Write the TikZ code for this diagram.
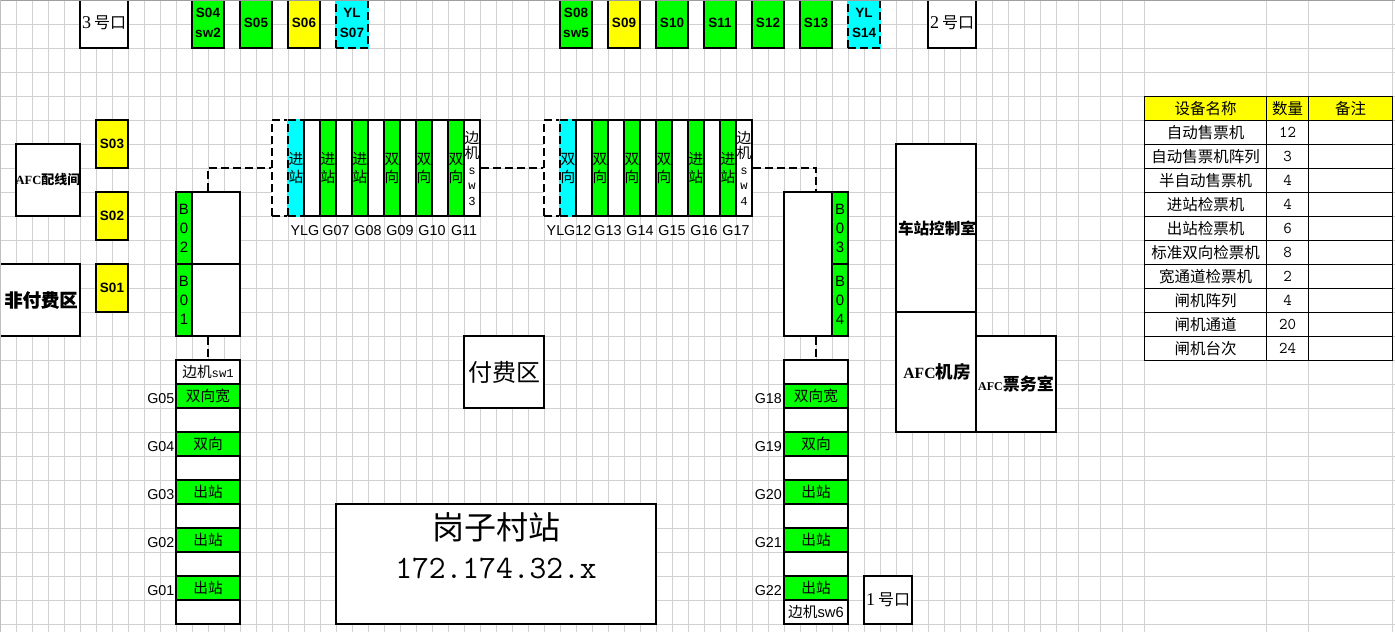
\documentclass[tikz,border=0pt]{standalone}
\usepackage{fontspec}
\setmainfont{Liberation Serif}
\setsansfont{Liberation Sans}
\newfontfamily\cjk{Noto Sans CJK SC}
\newfontfamily\cjkmid[FakeBold=0.5]{Noto Sans CJK SC}
\newfontfamily\half{Liberation Mono}
\usetikzlibrary{arrows.meta}
\definecolor{ylcyan}{RGB}{0,255,255}
\definecolor{ylyellow}{RGB}{255,255,0}

\tikzset{
    room/.style={draw,line width=2pt,fill=white,inner sep=0pt,align=center},
    spare/.style={dash pattern=on 8pt off 4pt,preaction={draw=ylcyan,solid}},
    link/.style={draw=black,line width=2pt,dash pattern=on 8pt off 4pt},
    cell/.style={draw,line width=1pt,inner sep=0pt,minimum height=24pt,font={\cjk\fontsize{15.5}{18}\selectfont}},
    cola/.style={cell,minimum width=122pt},
    colb/.style={cell,minimum width=42pt},
    colc/.style={cell,minimum width=84pt},
    num/.style={font={\ttfamily\fontsize{16.5}{18}\selectfont}}
}

\begin{document}
\begin{tikzpicture}[x=1pt,y=-1pt]
\useasboundingbox (0,0) rectangle (1395,632);
\fill[white] (0,0) rectangle (1395,632);

% sheet lines
\begin{scope}[line width=1pt,draw=black!18]
    \foreach \gx in {0,16,...,1056,1078,1100,1122,1144,1266,1308,1392}
        \draw (\gx+0.5,0) -- (\gx+0.5,632);
    \foreach \gy in {24,48,...,624}
        \draw (0,\gy+0.5) -- (1395,\gy+0.5);
\end{scope}

% doors and rooms
\begin{scope}[every node/.style={room,font={\bfseries\fontsize{16}{18}\selectfont}}]
    \node[minimum width=48pt,minimum height=50pt] (door3) at (104,23) {\mdseries\fontsize{18}{18}\selectfont 3\,\cjk\fontsize{16}{18}\selectfont 号口};
    \node[minimum width=48pt,minimum height=50pt] (door2) at (952,23) {\mdseries\fontsize{18}{18}\selectfont 2\,\cjk\fontsize{16}{18}\selectfont 号口};
    \node[minimum width=48pt,minimum height=48pt] (door1) at (888,600) {\mdseries\fontsize{18}{18}\selectfont 1\,\cjk\fontsize{16}{18}\selectfont 号口};
    \node[minimum width=64pt,minimum height=72pt] (wiring) at (48,180) {\fontsize{12.5}{14}\selectfont AFC\cjk\fontsize{13}{14}\selectfont 配线间};
    \node[minimum width=82pt,minimum height=72pt] (unpaid) at (39,300) {\hspace*{4pt}\cjkmid\fontsize{18.3}{20}\selectfont 非付费区};
    \node[minimum width=80pt,minimum height=72pt] (paid) at (504,372) {\mdseries\cjk\fontsize{24}{26}\selectfont 付费区};
    \node[minimum width=80pt,minimum height=168pt] (control) at (936,228) {\hspace*{2pt}\cjk\fontsize{15.6}{18}\selectfont 车站控制室};
    \node[minimum width=80pt,minimum height=120pt] (afcroom) at (936,372) {\hspace*{2pt}\fontsize{15.6}{18}\selectfont AFC\cjk\fontsize{17.5}{18}\selectfont 机房};
    \node[minimum width=80pt,minimum height=96pt] (ticket) at (1016,384) {\fontsize{12}{18}\selectfont AFC\cjk\fontsize{17}{18}\selectfont 票务室};
    \node[minimum width=320pt,minimum height=120pt] (station) at (496,564) {};
\end{scope}
\node[inner sep=0pt,font={\cjk\fontsize{32}{34}\selectfont}] (stname) at (496,527) {岗子村站};
\node[inner sep=0pt,font={\ttfamily\fontsize{32.6}{34}\selectfont}] (stip) at (496,568) {172.174.32.x};

% ticket machines
\begin{scope}[every node/.style={room,minimum width=32pt,minimum height=50pt,font={\sffamily\bfseries\fontsize{13.5}{19.5}\selectfont}}]
    \node[fill=green] (s04) at (208,23) {S04\\sw2};
    \node[fill=green] (s05) at (256,23) {S05};
    \node[fill=ylyellow] (s06) at (304,23) {S06};
    \node[fill=ylcyan,spare] (s07) at (352,23) {YL\\S07};
    \node[fill=green] (s08) at (576,23) {S08\\sw5};
    \node[fill=ylyellow] (s09) at (624,23) {S09};
    \node[fill=green] (s10) at (672,23) {S10};
    \node[fill=green] (s11) at (720,23) {S11};
    \node[fill=green] (s12) at (768,23) {S12};
    \node[fill=green] (s13) at (816,23) {S13};
    \node[fill=ylcyan,spare] (s14) at (864,23) {YL\\S14};
    \node[fill=ylyellow,minimum height=48pt] (s03) at (112,144) {S03};
    \node[fill=ylyellow,minimum height=48pt] (s02) at (112,216) {S02};
    \node[fill=ylyellow,minimum height=48pt] (s01) at (112,288) {S01};
\end{scope}

% ticket offices
\begin{scope}[every node/.style={room,font={\sffamily\fontsize{15}{19}\selectfont}}]
    \node[minimum width=64pt,minimum height=144pt] (office1) at (208,264) {};
    \node[minimum width=48pt,minimum height=72pt] (w02) at (216,228) {};
    \node[minimum width=48pt,minimum height=72pt] (w01) at (216,300) {};
    \node[fill=green,minimum width=16pt,minimum height=72pt] (b02) at (184,228) {B\\0\\2};
    \node[fill=green,minimum width=16pt,minimum height=72pt] (b01) at (184,300) {B\\0\\1};
    \node[minimum width=64pt,minimum height=144pt] (office2) at (816,264) {};
    \node[fill=green,minimum width=16pt,minimum height=72pt] (b03) at (840,228) {B\\0\\3};
    \node[fill=green,minimum width=16pt,minimum height=72pt] (b04) at (840,300) {B\\0\\4};
\end{scope}

% gate array one
\begin{scope}[every node/.style={room,minimum width=16pt,minimum height=96pt,font={\cjk\fontsize{14.7}{18}\selectfont}}]
    \node[dash pattern=on 8pt off 4pt] (ylbox1) at (280,168) {};
    \node[minimum width=192pt] (array1) at (384,168) {};
    \node[fill=ylcyan,spare] (ylg1) at (296,168) {进\\站};
    \node (gap1) at (312,168) {};
    \node[fill=green] (g07) at (328,168) {进\\站};
    \node[fill=green] (g08) at (360,168) {进\\站};
    \node[fill=green] (g09) at (392,168) {双\\向};
    \node[fill=green] (g10) at (424,168) {双\\向};
    \node[fill=green] (g11) at (456,168) {双\\向};
    \node[font={\cjk\fontsize{14.7}{15.5}\selectfont}] (sw3) at (472,168) {边\\机\\{\half\fontsize{12.2}{15.5}\selectfont s}\\{\half\fontsize{12.2}{15.5}\selectfont w}\\{\half\fontsize{12.2}{15.5}\selectfont 3}};
\end{scope}

% gate array two
\begin{scope}[every node/.style={room,minimum width=16pt,minimum height=96pt,font={\cjk\fontsize{14.7}{18}\selectfont}}]
    \node[dash pattern=on 8pt off 4pt] (ylbox2) at (552,168) {};
    \node[minimum width=192pt] (array2) at (656,168) {};
    \node[fill=ylcyan,spare] (ylg2) at (568,168) {双\\向};
    \node (gap2) at (584,168) {};
    \node[fill=green] (g13) at (600,168) {双\\向};
    \node[fill=green] (g14) at (632,168) {双\\向};
    \node[fill=green] (g15) at (664,168) {双\\向};
    \node[fill=green] (g16) at (696,168) {进\\站};
    \node[fill=green] (g17) at (728,168) {进\\站};
    \node[font={\cjk\fontsize{14.7}{15.5}\selectfont}] (sw4) at (744,168) {边\\机\\{\half\fontsize{12.2}{15.5}\selectfont s}\\{\half\fontsize{12.2}{15.5}\selectfont w}\\{\half\fontsize{12.2}{15.5}\selectfont 4}};
\end{scope}

% gate stacks
\begin{scope}[every node/.style={room,minimum width=64pt,minimum height=24pt,font={\cjk\fontsize{14.7}{18}\selectfont}}]
    \node[minimum height=264pt] (stack1) at (208,492) {};
    \node[draw=none,fill=none] (sw1) at (208,372) {边机{\half\fontsize{12.2}{18}\selectfont sw1}};
    \node[fill=green] (g05) at (208,396) {双向宽};
    \node[fill=green] (g04) at (208,444) {双向};
    \node[fill=green] (g03) at (208,492) {出站};
    \node[fill=green] (g02) at (208,540) {出站};
    \node[fill=green] (g01) at (208,588) {出站};
    \node[minimum height=264pt] (stack2) at (816,492) {};
    \node[fill=green] (g18) at (816,396) {双向宽};
    \node[fill=green] (g19) at (816,444) {双向};
    \node[fill=green] (g20) at (816,492) {出站};
    \node[fill=green] (g21) at (816,540) {出站};
    \node[fill=green] (g22) at (816,588) {出站};
    \node[draw=none,fill=none] (sw6) at (816,612) {边机{\sffamily sw6}};
\end{scope}

% gate numbers
\begin{scope}[every node/.style={inner sep=0pt,font={\sffamily\fontsize{14.3}{16}\selectfont}}]
    \node (lylg1) at (305,231) {YLG};
    \node (lg07) at (336,231) {G07};
    \node (lg08) at (368,231) {G08};
    \node (lg09) at (400,231) {G09};
    \node (lg10) at (432,231) {G10};
    \node (lg11) at (464,231) {G11};
    \node (lg12) at (569,231) {YLG12};
    \node (lg13) at (608,231) {G13};
    \node (lg14) at (640,231) {G14};
    \node (lg15) at (672,231) {G15};
    \node (lg16) at (704,231) {G16};
    \node (lg17) at (736,231) {G17};
    \node[anchor=east] (lg05) at (174.5,399) {G05};
    \node[anchor=east] (lg04) at (174.5,447) {G04};
    \node[anchor=east] (lg03) at (174.5,495) {G03};
    \node[anchor=east] (lg02) at (174.5,543) {G02};
    \node[anchor=east] (lg01) at (174.5,591) {G01};
    \node[anchor=east] (lg18) at (782,399) {G18};
    \node[anchor=east] (lg19) at (782,447) {G19};
    \node[anchor=east] (lg20) at (782,495) {G20};
    \node[anchor=east] (lg21) at (782,543) {G21};
    \node[anchor=east] (lg22) at (782,591) {G22};
\end{scope}

% dashed links
\begin{scope}[every edge/.style={link}]
    \path [-] (sw3) edge (ylbox2);
    \path [-] (office1) edge (stack1);
    \path [-] (office2) edge (stack2);
    \draw [link] (office1.north) |- (ylbox1.west);
    \draw [link] (sw4.east) -| (office2.north);
\end{scope}

% device table
\begin{scope}[every node/.append style={fill=white}]
    \node[cola,fill=ylyellow] (t0a) at (1205.5,108.5) {设备名称};
    \node[colb,fill=ylyellow] (t0b) at (1287.5,108.5) {数量};
    \node[colc,fill=ylyellow] (t0c) at (1350.5,108.5) {备注};
    \node[cola] (t1a) at (1205.5,132.5) {自动售票机};
    \node[colb,num] (t1b) at (1287.5,132.5) {12};
    \node[colc] (t1c) at (1350.5,132.5) {};
    \node[cola] (t2a) at (1205.5,156.5) {自动售票机阵列};
    \node[colb,num] (t2b) at (1287.5,156.5) {3};
    \node[colc] (t2c) at (1350.5,156.5) {};
    \node[cola] (t3a) at (1205.5,180.5) {半自动售票机};
    \node[colb,num] (t3b) at (1287.5,180.5) {4};
    \node[colc] (t3c) at (1350.5,180.5) {};
    \node[cola] (t4a) at (1205.5,204.5) {进站检票机};
    \node[colb,num] (t4b) at (1287.5,204.5) {4};
    \node[colc] (t4c) at (1350.5,204.5) {};
    \node[cola] (t5a) at (1205.5,228.5) {出站检票机};
    \node[colb,num] (t5b) at (1287.5,228.5) {6};
    \node[colc] (t5c) at (1350.5,228.5) {};
    \node[cola] (t6a) at (1205.5,252.5) {标准双向检票机};
    \node[colb,num] (t6b) at (1287.5,252.5) {8};
    \node[colc] (t6c) at (1350.5,252.5) {};
    \node[cola] (t7a) at (1205.5,276.5) {宽通道检票机};
    \node[colb,num] (t7b) at (1287.5,276.5) {2};
    \node[colc] (t7c) at (1350.5,276.5) {};
    \node[cola] (t8a) at (1205.5,300.5) {闸机阵列};
    \node[colb,num] (t8b) at (1287.5,300.5) {4};
    \node[colc] (t8c) at (1350.5,300.5) {};
    \node[cola] (t9a) at (1205.5,324.5) {闸机通道};
    \node[colb,num] (t9b) at (1287.5,324.5) {20};
    \node[colc] (t9c) at (1350.5,324.5) {};
    \node[cola] (t10a) at (1205.5,348.5) {闸机台次};
    \node[colb,num] (t10b) at (1287.5,348.5) {24};
    \node[colc] (t10c) at (1350.5,348.5) {};
\end{scope}

% sheet edge
\fill[black!38] (0,0) rectangle (1395,1);
\fill[black!25] (0,0) rectangle (1,632);
\end{tikzpicture}
\end{document}
